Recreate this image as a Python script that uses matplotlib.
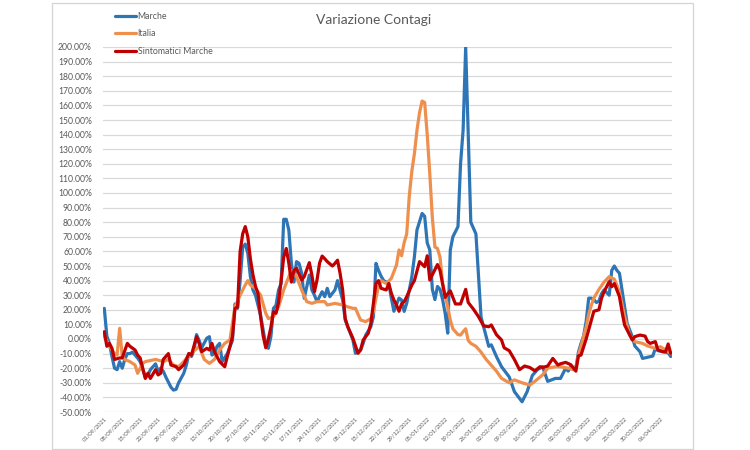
import datetime as dt
import matplotlib
matplotlib.use("Agg")
import matplotlib.pyplot as plt
from matplotlib.patches import Rectangle

plt.rcParams['font.family'] = ['Lato', 'DejaVu Sans']

# ---------------- data (day offset from 01/09/2021, value in %) ----------------
start_date = dt.date(2021, 9, 1)
n_days = 222

marche_day = [0, 1, 2, 3, 4, 5, 6, 7, 8, 9, 10, 11, 13, 14, 16, 17, 18, 20, 21, 22, 23, 24, 26, 27, 28, 29,
              31, 32, 33, 34, 35, 36, 37, 38, 40, 41, 42, 43, 44, 45, 46, 48, 50, 51, 52, 53, 54, 55, 56, 57,
              58, 59, 61, 63, 64, 65, 66, 67, 68, 69, 70, 71, 72, 73, 74, 75, 76, 77, 78, 79, 80, 81, 82, 83,
              85, 86, 87, 88, 90, 91, 93, 94, 95, 96, 97, 98, 100, 101, 102, 104, 105, 106, 107, 108, 109, 111,
              112, 113, 115, 116, 117, 118, 120, 121, 122, 124, 125, 126, 127, 128, 129, 130, 131, 132, 133, 134,
              135, 136, 138, 139, 140, 141, 142, 143, 145, 146, 147, 149, 150, 151, 153, 155, 158, 160, 163, 165,
              167, 169, 171, 173, 176, 178, 180, 181, 182, 184, 185, 186, 187, 188, 189, 190, 191, 192, 193, 194,
              195, 197, 198, 199, 200, 201, 202, 203, 204, 206, 207, 209, 210, 212, 214, 215, 216, 218, 220, 221]
marche_val = [21, 2, -3, -12, -20, -21, -15.5, -20, -14, -10, -10, -9, -13, -15.5, -26, -25, -21, -17, -22, -20,
              -22, -26, -33, -35, -34.5, -30, -23.5, -18, -10, -12, -7.5, 3, -1, -6, 0.5, 1.6, -11, -10, -5, -3,
              -15.5, -10, -1, 24, 21, 40, 63, 65, 58.7, 42.7, 33.6, 30, 16, -4, -6.4, 1.6, 21, 23, 33.6, 38, 82,
              82, 74.6, 51.8, 39, 53, 51.8, 45, 27.9, 35.8, 43.8, 33.6, 30, 25.6, 32.4, 29, 34.7, 29, 33.6, 40,
              26.7, 13, 8.4, 3.9, -0.7, -9.8, -7.5, -3, 2.7, 8.4, 15.3, 51.8, 47, 43, 40, 38, 27.9, 19, 28, 26.7,
              18.9, 24.5, 42.7, 56.4, 74.7, 86, 84, 65.8, 61, 34, 27, 36, 34, 27, 17.6, 4, 61, 70, 77, 120, 143,
              200, 139, 80, 72, 43, 15, 1.6, -5, -4, -12, -19, -26, -36, -43, -36, -25, -21, -19, -29, -27, -27,
              -20, -22, -19, -20, -9, -3, 2, 12, 28, 28, 27, 25, 26, 31, 33.6, 30, 47, 50, 47, 45, 33.6, 22, 10.7,
              1.6, -4.8, -8.7, -13.3, -12.5, -11.7, -6.4, -8, -8.7, -9.4, -12]

italia_day = [0, 2, 4, 5, 6, 7, 8, 10, 12, 13, 15, 16, 20, 23, 25, 27, 29, 31, 34, 37, 39, 41, 43, 45, 47, 49,
              51, 53, 55, 56, 57, 59, 61, 63, 64, 66, 68, 70, 72, 73, 75, 77, 79, 81, 83, 86, 87, 90, 93, 95, 97,
              98, 100, 102, 104, 105, 106, 107, 108, 110, 112, 113, 114, 115, 116, 117, 118, 119, 120, 121, 122,
              123, 124, 125, 126, 127, 128, 129, 130, 131, 132, 134, 135, 136, 138, 139, 140, 141, 142, 143, 145,
              147, 149, 151, 153, 155, 158, 160, 163, 166, 168, 171, 173, 176, 178, 181, 183, 184, 185, 186, 187,
              188, 189, 190, 191, 192, 193, 195, 197, 199, 201, 203, 205, 207, 210, 212, 215, 217, 219, 221]
italia_val = [2, -5, -10, -11, 7.3, -12, -14, -15.5, -17.8, -23.5, -16.7, -15.5, -14, -15.5, -14, -17.8, -19,
              -15.5, -9.8, -5, -14, -16.7, -14, -7.5, -3, -0.7, 22, 30, 37, 40, 37, 34.7, 30, 17.6, 14, 15.3, 22,
              33.6, 42.7, 47, 42.7, 33.6, 25.6, 24.4, 25.6, 25.6, 23.3, 24.4, 23.3, 22, 21, 21, 13, 11.9, 14, 18.7,
              28, 36, 40, 38, 41.5, 46, 50.7, 61, 57, 66, 72, 98, 115, 127, 143, 155, 163, 162, 140, 113, 83, 63,
              62, 56, 38, 22, 13, 7, 3, 2.7, 5, 7, -1, -3, -5, -9, -14, -18, -22, -27, -30, -28, -30, -31.5, -29,
              -24.6, -20, -19, -19, -20, -21, -19, -11, -5, 2, 8, 17, 23, 28, 31, 34, 39, 42.7, 41, 32.4, 15.3,
              2.7, -1.8, -3, -4.8, -6.4, -5.3, -7.5, -9.8]

sint_day = [0, 1, 2, 3, 4, 6, 7, 9, 10, 12, 13, 14, 16, 17, 18, 20, 21, 22, 23, 24, 25, 26, 28, 29, 31, 33, 34,
            36, 37, 38, 40, 41, 42, 43, 45, 47, 48, 50, 51, 52, 53, 54, 55, 56, 57, 58, 59, 60, 61, 62, 63, 64,
            65, 66, 67, 68, 69, 70, 71, 72, 73, 74, 75, 77, 78, 80, 81, 82, 83, 84, 85, 86, 87, 89, 90, 91, 92,
            93, 94, 95, 97, 99, 100, 101, 103, 104, 106, 107, 108, 110, 111, 112, 113, 114, 115, 116, 117, 118,
            119, 120, 121, 123, 125, 126, 127, 128, 130, 131, 133, 134, 135, 137, 139, 141, 142, 144, 146, 148,
            150, 151, 153, 155, 156, 158, 160, 162, 164, 166, 168, 170, 171, 173, 175, 177, 178, 180, 182, 184,
            185, 186, 188, 190, 191, 193, 194, 195, 197, 198, 199, 201, 202, 203, 205, 206, 207, 209, 211, 212,
            213, 215, 216, 218, 219, 220, 221]
sint_val = [5, -5, -3, -6.4, -14, -13, -13, -3, -5, -7.5, -11, -13, -27, -23.5, -27, -21, -24.6, -23.5, -14,
            -12, -10, -17.8, -19, -21, -17.8, -10, -11, 1.6, -3, -8.7, -6.4, -7.5, -3, -8.7, -15.5, -19, -12,
            1.6, 21, 22, 60, 72, 77, 70, 55, 44, 36, 31, 15, 2, -6, 0, 8, 18.7, 17.6, 25, 40, 56, 62, 52, 39,
            47, 48.4, 40.4, 42.7, 52.3, 43.8, 32.4, 40.4, 52, 56.8, 55, 53, 50, 51.8, 54, 45, 33.6, 14, 8.4,
            0.5, -9.8, -7.5, -0.7, 3.9, 10.7, 38, 40, 34.7, 33.6, 38, 31.3, 26.7, 23.3, 19, 24, 25.6, 29, 33,
            37, 40, 53, 49.5, 57, 40.4, 44, 51, 47, 28.5, 31, 33, 24, 24, 34, 25, 20.5, 15.3, 9, 8.4, 9.6, 3,
            -0.7, -6, -8, -14, -21, -18.5, -19.5, -21.8, -19, -19.5, -18.5, -13.3, -17.8, -17, -16, -17.6, -22,
            -11.5, -11, 0, 12.5, 19, 20, 27.9, 32.4, 39.3, 35.8, 38, 29, 18.7, 9.6, 2.7, -0.7, 1.6, 2.7, 2,
            -1.8, -3, -1.8, -7.5, -8.7, -8.7, -3.4, -9.8]

series_names = ["Marche", "Italia", "Sintomatici Marche"]
series_colors = ["#2E75B6", "#EE8F4E", "#C00000"]

y_ticks = list(range(-50, 201, 10))
tick_days = list(range(0, n_days, 7))
tick_labels = [(start_date + dt.timedelta(days=d)).strftime("%d/%m/%Y") for d in tick_days]

# ---------------- figure ----------------
W, H = 750, 450
fig = plt.figure(figsize=(W / 100, H / 100), dpi=100)
fig.patch.set_facecolor("white")

# chart-area border (Excel-like)
fig.add_artist(Rectangle((52 / W, 1 - 449 / H), (693 - 52) / W, (449 - 3) / H,
                         transform=fig.transFigure, fill=False, edgecolor="#D4D4D4", lw=0.9))

ax = fig.add_axes([103 / W, 1 - 412 / H, (672 - 103) / W, (412 - 47) / H])
for s in ax.spines.values():
    s.set_visible(False)

lw = 2.3
for d, v, name, c in zip([marche_day, italia_day, sint_day],
                         [marche_val, italia_val, sint_val],
                         series_names, series_colors):
    ax.plot(d, v, color=c, lw=lw, label=name, solid_joinstyle="round", solid_capstyle="round")

ax.set_xlim(-0.5, n_days - 0.5)
ax.set_ylim(-50, 200)
ax.set_yticks(y_ticks)
ax.set_yticklabels([f"{t:.2f}%" for t in y_ticks], fontsize=6.2, color="#595959")
ax.yaxis.grid(True, color="#D9D9D9", lw=0.9)
ax.set_axisbelow(True)
ax.tick_params(axis="y", length=0, pad=8)

ax.set_xticks(tick_days)
ax.set_xticklabels(tick_labels, rotation=45, ha="right", rotation_mode="anchor",
                   fontsize=4.2, color="#595959")
ax.tick_params(axis="x", length=0, pad=3)

fig.text(374 / W, 1 - 20 / H, "Variazione Contagi", ha="center", va="center",
         fontsize=10, color="#595959")

leg = ax.legend(loc="upper left", bbox_to_anchor=(115 / W, 1 - 12 / H),
                bbox_transform=fig.transFigure, frameon=False, fontsize=6.3,
                handlelength=2.4, handletextpad=0.2, labelspacing=0.95,
                borderpad=0, borderaxespad=0)
for t in leg.get_texts():
    t.set_color("#595959")

fig.savefig("out.png", dpi=100, facecolor="white")
